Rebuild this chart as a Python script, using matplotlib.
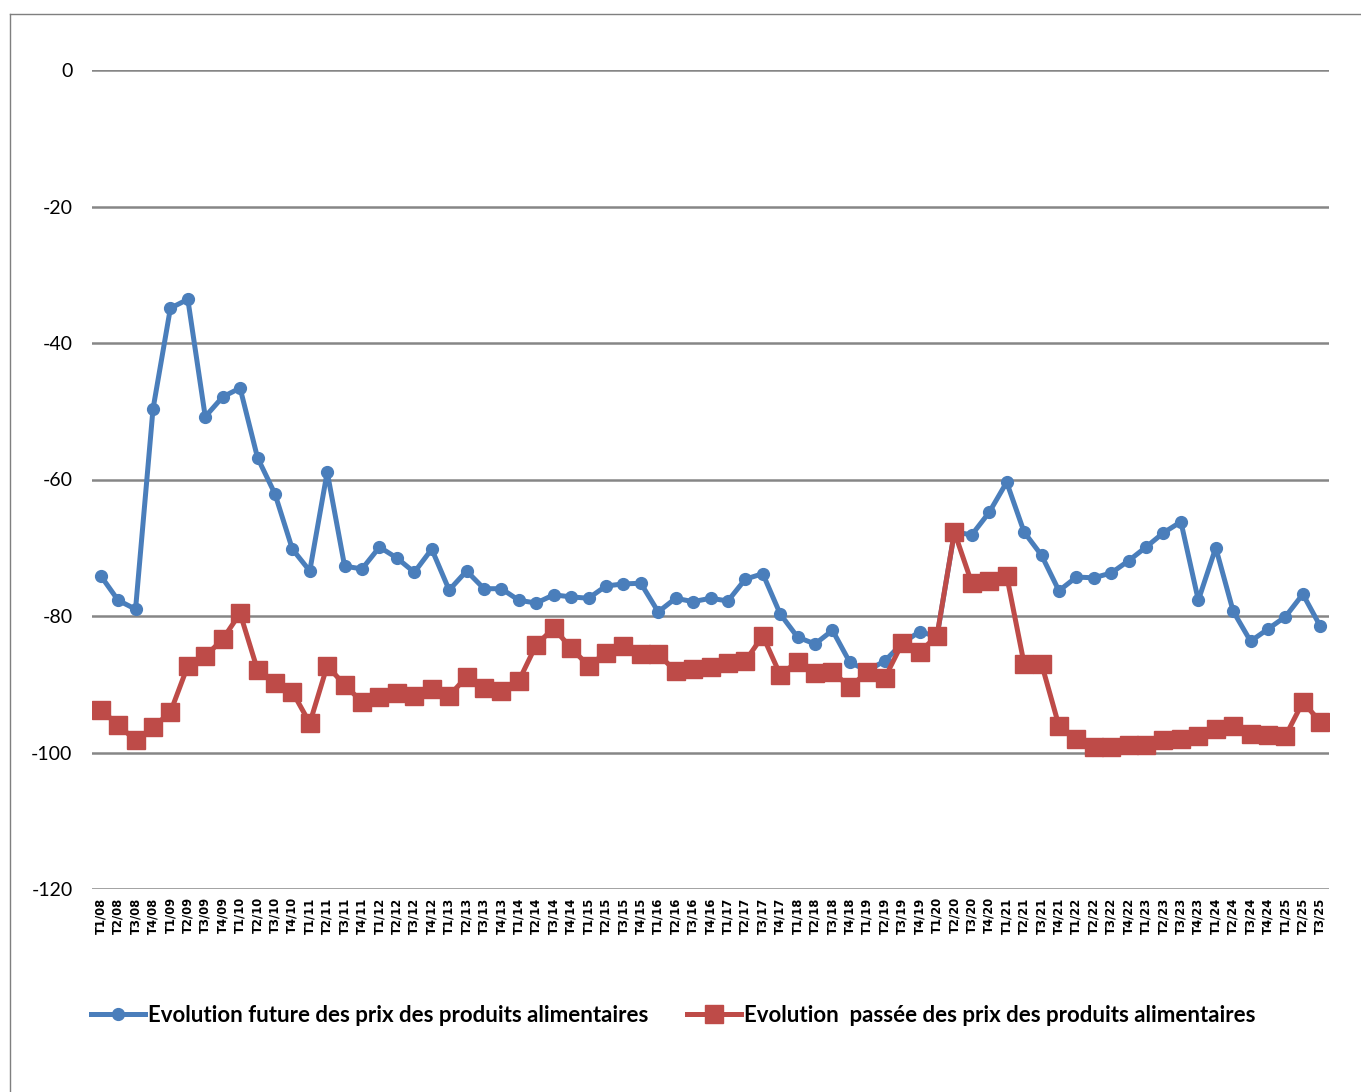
import numpy as np
import matplotlib
matplotlib.use("agg")
import matplotlib.pyplot as plt
from matplotlib.lines import Line2D

# quarters T1/08 .. T3/25
quarters = [f"T{q}/{y:02d}" for y in range(8, 26) for q in range(1, 5)][:71]

# future evolution of food prices (blue)
future = [-74.1, -77.7, -79.0, -49.7, -34.9, -33.6, -50.8, -47.9, -46.6, -56.8,
          -62.1, -70.2, -73.4, -58.9, -72.7, -73.1, -69.9, -71.5, -73.6, -70.2,
          -76.2, -73.4, -76.0, -76.0, -77.7, -78.1, -76.9, -77.2, -77.4, -75.6,
          -75.3, -75.2, -79.4, -77.4, -77.9, -77.4, -77.8, -74.6, -73.8, -79.7,
          -83.1, -84.1, -82.1, -86.8, -88.0, -86.6, -84.0, -82.3, -83.0, -67.7,
          -68.1, -64.8, -60.4, -67.7, -71.1, -76.3, -74.3, -74.4, -73.7, -71.9,
          -69.9, -67.8, -66.2, -77.7, -70.0, -79.3, -83.7, -81.9, -80.1, -76.8,
          -81.5]

# past evolution of food prices (red)
past = [-93.7, -96.0, -98.2, -96.3, -94.1, -87.3, -85.9, -83.4, -79.6, -87.9,
        -89.8, -91.1, -95.7, -87.3, -90.1, -92.6, -91.9, -91.3, -91.7, -90.7,
        -91.7, -88.9, -90.5, -91.0, -89.5, -84.2, -81.8, -84.7, -87.3, -85.4,
        -84.4, -85.6, -85.6, -88.1, -87.8, -87.5, -86.9, -86.6, -82.9, -88.6,
        -86.7, -88.3, -88.2, -90.4, -88.2, -89.1, -84.0, -85.3, -82.9, -67.7,
        -75.2, -74.9, -74.1, -87.0, -87.0, -96.1, -98.0, -99.2, -99.2, -98.9,
        -98.9, -98.2, -98.0, -97.6, -96.6, -96.1, -97.3, -97.4, -97.6, -92.6,
        -95.5]

label_future = "Evolution future des prix des produits alimentaires"
label_past = "Evolution  passée des prix des produits alimentaires"

plt.rcParams['font.family'] = ['Lato', 'DejaVu Sans']
plt.rcParams['axes.unicode_minus'] = False

fig = plt.figure(figsize=(13.61, 10.92), dpi=100)
ax = fig.add_axes([92/1361, 1-889/1092, (1329-92)/1361, (889-70)/1092])

x = np.arange(len(quarters))
ax.plot(x, future, color="#4a7ebb", lw=3.6, marker="o", ms=8.5, label=label_future)
ax.plot(x, past, color="#be4b48", lw=3.6, marker="s", ms=13, label=label_past)

ax.set_xlim(-0.5, len(quarters) - 0.5)
ax.set_ylim(-120, 0)
ax.set_yticks(range(-120, 1, 20))
ax.yaxis.grid(True, color="#868686", lw=1.8)
ax.set_axisbelow(True)
for s in ax.spines.values():
    s.set_visible(False)
ax.tick_params(axis="both", length=0)
ax.tick_params(axis="y", labelsize=14, pad=14)
ax.set_xticks(x)
ax.set_xticklabels(quarters, rotation=90, fontsize=8.3, fontweight="bold",
                   family=["DejaVu Sans"])
ax.tick_params(axis="x", pad=6)

leg = ax.legend(loc="upper left", bbox_to_anchor=(-0.017, -0.117), ncol=2, frameon=False,
                prop={"size": 16, "weight": "bold"}, handlelength=2.45,
                columnspacing=1.75, handletextpad=0.1)

# outer chart border (top and left)
fig.add_artist(Line2D([10/1361, 1], [1-14/1092, 1-14/1092], color="#7f7f7f", lw=1))
fig.add_artist(Line2D([10/1361, 10/1361], [0, 1-14/1092], color="#7f7f7f", lw=1))

fig.savefig("out.png", dpi=100)
